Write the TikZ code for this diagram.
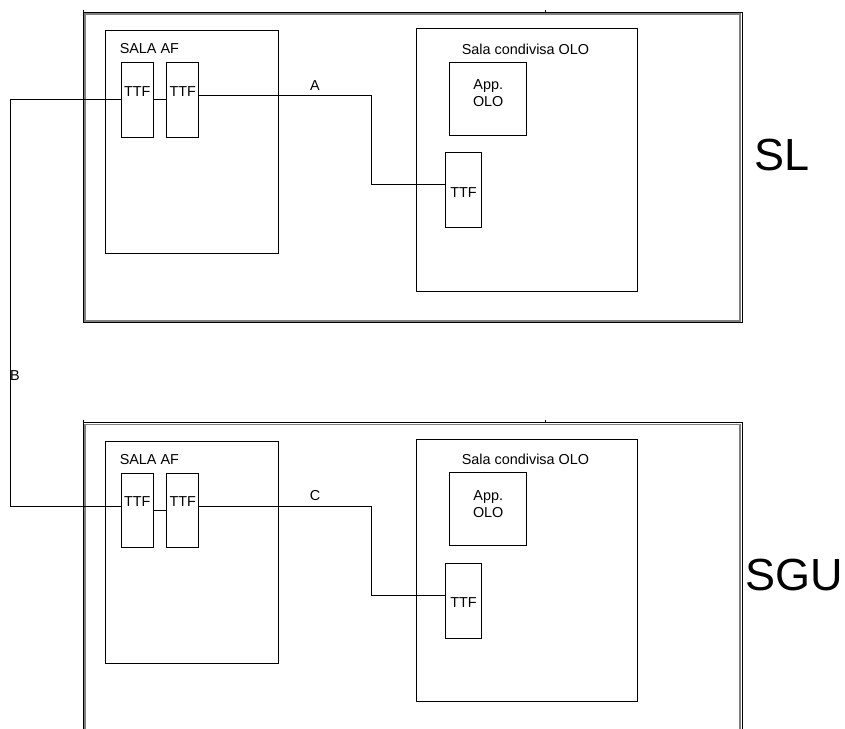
\documentclass[tikz,border=0pt]{standalone}
\usepackage{fontspec}
\setmainfont{Liberation Sans}
\usepackage{tikz}

\tikzset{
	txt/.style={font=\fontsize{14.4}{17}\selectfont, inner sep=0pt},
	room/.style={draw, inner sep=0pt},
	ttfbox/.style={room, txt, minimum width=32pt, minimum height=74.3pt, text height=10pt, text depth=17.2pt},
	framein/.style={draw=gray, line width=1.5pt},
}

\begin{document}
\begin{tikzpicture}[x=1pt, y=-1pt, line width=0.9pt]
	\useasboundingbox (0,0) rectangle (845,728);
	\clip (0,0) rectangle (845,728);
	
	%two sites, same layout
	\foreach \dy/\nm/\wire/\site/\sx/\sy in {0/a/A/SL/754/170.7, 410.7/b/C/SGU/745/180}{
	\begin{scope}[yshift=-\dy]
	%frame
	\draw (83.3,12) rectangle (742,322.7);
	\draw[framein] (85.1,13.8) rectangle (740.2,320.9);
	\draw (83.3,9.5) -- (83.3,12) (545,9.5) -- (545,12);
	
	%SALA AF
	\node[room, minimum width=172.3pt, minimum height=222.3pt] (sala\nm) at (191.85,141.85) {};
	\node[txt, anchor=base west] (salat\nm) at (119.3,53.3) {SALA AF};
	\node[ttfbox] (ttf\nm1) at (137.3,99.85) {TTF};
	\node[ttfbox] (ttf\nm2) at (182.7,99.85) {TTF};
	
	%Sala condivisa
	\node[room, minimum width=221.7pt, minimum height=262.3pt] (olo\nm) at (526.85,159.85) {};
	\node[txt, anchor=base] (olot\nm) at (525.5,54) {Sala condivisa OLO};
	\node[room, minimum width=77pt, minimum height=73pt] (app\nm) at (488.2,98.5) {};
	\node[txt, align=center, anchor=north] (appt\nm) at (488.2,79.5) {App.\\OLO};
	\node[ttfbox, minimum width=36.4pt, minimum height=75pt, text height=14pt, text depth=0pt] (ttf\nm3) at (463.5,190.2) {TTF};
	
	%wires
	\draw (ttf\nm1) -- (ttf\nm2);
	\draw ([yshift=4pt]ttf\nm2.east) -- ++(172.3,0) |- ([yshift=5.5pt]ttf\nm3.west);
	\node[txt, anchor=base] (wire\nm) at (315,90) {\wire};
	
	%site name
	\node[font=\fontsize{45}{50}\selectfont, inner sep=0pt, anchor=base west] (site\nm) at (\sx,\sy) {\site};
	\end{scope}
	}
	
	%SL--SGU
	\draw (ttfa1.west) -- ++(-110.6,0) |- ([yshift=3.8pt]ttfb1.west);
	\node[txt, anchor=base] (wireB) at (15,380) {B};
\end{tikzpicture}
\end{document}
